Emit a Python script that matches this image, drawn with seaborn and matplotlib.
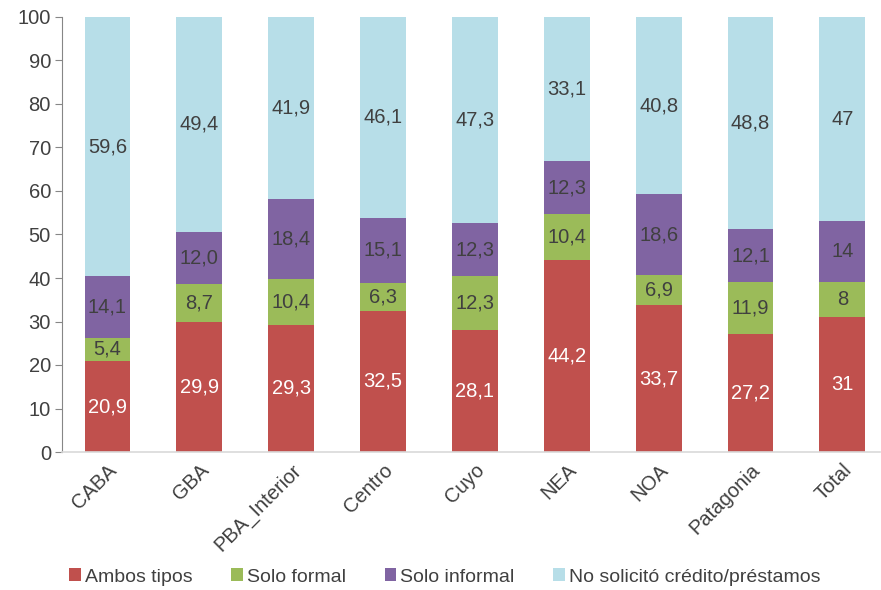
import matplotlib
matplotlib.use("Agg")
import matplotlib.pyplot as plt
import seaborn as sns
import numpy as np
import pandas as pd
from matplotlib.patches import Patch

regions = ["CABA", "GBA", "PBA_Interior", "Centro", "Cuyo", "NEA", "NOA", "Patagonia", "Total"]
series_names = ["Ambos tipos", "Solo formal", "Solo informal", "No solicitó crédito/préstamos"]
ambos = [20.9, 29.9, 29.3, 32.5, 28.1, 44.2, 33.7, 27.2, 31]
formal = [5.4, 8.7, 10.4, 6.3, 12.3, 10.4, 6.9, 11.9, 8]
informal = [14.1, 12.0, 18.4, 15.1, 12.3, 12.3, 18.6, 12.1, 14]
no_solicito = [59.6, 49.4, 41.9, 46.1, 47.3, 33.1, 40.8, 48.8, 47]
label_text = [
    ["20,9", "29,9", "29,3", "32,5", "28,1", "44,2", "33,7", "27,2", "31"],
    ["5,4", "8,7", "10,4", "6,3", "12,3", "10,4", "6,9", "11,9", "8"],
    ["14,1", "12,0", "18,4", "15,1", "12,3", "12,3", "18,6", "12,1", "14"],
    ["59,6", "49,4", "41,9", "46,1", "47,3", "33,1", "40,8", "48,8", "47"],
]
colors = ["#C0504D", "#9BBB59", "#8064A2", "#B7DEE8"]
text_colors = ["white", "#404040", "#404040", "#404040"]

sns.set_style("white")
plt.rcParams["font.family"] = ["Liberation Sans", "DejaVu Sans"]

values = np.array([ambos, formal, informal, no_solicito])
cum = values.cumsum(axis=0)

fig = plt.figure(figsize=(8.81, 5.90), dpi=100)
ax = fig.add_axes([62 / 881, 1 - 452 / 590, 818 / 881, 435 / 590])

# draw tallest cumulative layer first, then overlay lower ones
for i in range(3, -1, -1):
    df = pd.DataFrame({"region": regions, "value": cum[i]})
    sns.barplot(data=df, x="region", y="value", color=colors[i], width=0.5,
                saturation=1, ax=ax, linewidth=0, order=regions)

for i in range(4):
    for j in range(len(regions)):
        center = cum[i][j] - values[i][j] / 2
        ax.text(j, center, label_text[i][j], ha="center", va="center",
                fontsize=14.5, color=text_colors[i])

ax.set_ylim(0, 100)
ax.set_xlim(-0.495, 8.41)
ax.set_yticks(range(0, 101, 10))
ax.set_xlabel("")
ax.set_ylabel("")
for s in ["top", "right"]:
    ax.spines[s].set_visible(False)
ax.spines["left"].set_color("#868686")
ax.spines["bottom"].set_color("#D9D9D9")
ax.spines["bottom"].set_linewidth(1.2)
ax.tick_params(axis="y", colors="#404040", labelsize=14.5, length=5, color="#868686",
               direction="out", left=True, pad=3)
ax.tick_params(axis="x", colors="#404040", labelsize=14.5, length=0, pad=6)
plt.setp(ax.get_xticklabels(), rotation=45, ha="right", rotation_mode="anchor")

handles = [Patch(facecolor=c, edgecolor="none") for c in colors]
fig.legend(handles, series_names, loc="center", bbox_to_anchor=(0.505, 1 - 577 / 590), ncol=4,
           frameon=False, fontsize=14, handlelength=0.6, handleheight=0.6, handletextpad=0.2,
           columnspacing=2.0, labelcolor="#404040")

fig.savefig("out.png", dpi=100)
